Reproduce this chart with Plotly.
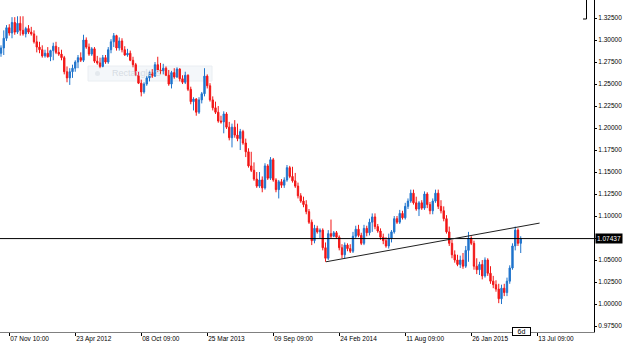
import pandas as pd
import plotly.graph_objects as go

# ---------------- data (weekly candles) ----------------
start_date = "2011-10-17"
n_bars = 190

opens = [1.285,1.291,1.302,1.314,1.308,1.320,1.309,1.319,1.311,1.307,
         1.313,1.309,1.307,1.298,1.292,1.289,1.282,1.285,1.281,1.288,
         1.293,1.286,1.284,1.280,1.264,1.257,1.264,1.268,1.275,1.280,
         1.277,1.300,1.292,1.284,1.290,1.276,1.274,1.270,1.280,1.275,
         1.289,1.298,1.305,1.291,1.299,1.289,1.283,1.285,1.277,1.272,
         1.260,1.251,1.241,1.250,1.257,1.263,1.259,1.272,1.266,1.265,
         1.268,1.260,1.250,1.263,1.258,1.267,1.256,1.252,1.260,1.244,
         1.230,1.233,1.218,1.232,1.239,1.259,1.248,1.232,1.223,1.218,
         1.208,1.207,1.216,1.201,1.189,1.201,1.192,1.188,1.196,1.183,
         1.173,1.157,1.152,1.142,1.134,1.141,1.132,1.157,1.143,1.164,
         1.141,1.130,1.139,1.135,1.141,1.155,1.145,1.140,1.134,1.123,
         1.117,1.113,1.105,1.093,1.072,1.086,1.082,1.084,1.064,1.052,
         1.080,1.077,1.081,1.076,1.064,1.056,1.067,1.063,1.060,1.077,
         1.085,1.078,1.069,1.086,1.081,1.093,1.099,1.088,1.083,1.076,
         1.072,1.066,1.075,1.082,1.097,1.093,1.103,1.098,1.111,1.117,
         1.126,1.115,1.108,1.115,1.109,1.125,1.113,1.106,1.117,1.126,
         1.111,1.106,1.097,1.082,1.069,1.056,1.050,1.045,1.050,1.043,
         1.061,1.075,1.069,1.043,1.039,1.045,1.032,1.050,1.035,1.026,
         1.022,1.017,1.006,1.018,1.013,1.026,1.041,1.066,1.084,1.069]

highs = [1.294,1.311,1.317,1.318,1.326,1.326,1.327,1.327,1.327,1.315,
         1.317,1.315,1.311,1.305,1.298,1.294,1.289,1.292,1.289,1.297,
         1.298,1.292,1.289,1.282,1.270,1.268,1.272,1.277,1.283,1.286,
         1.306,1.303,1.296,1.292,1.292,1.282,1.280,1.283,1.283,1.292,
         1.301,1.308,1.306,1.303,1.302,1.293,1.290,1.288,1.281,1.274,
         1.264,1.255,1.252,1.259,1.265,1.267,1.275,1.281,1.274,1.273,
         1.270,1.266,1.265,1.268,1.269,1.268,1.260,1.264,1.261,1.247,
         1.235,1.234,1.235,1.241,1.268,1.261,1.251,1.236,1.230,1.225,
         1.214,1.219,1.218,1.207,1.205,1.209,1.205,1.199,1.198,1.188,
         1.177,1.173,1.161,1.150,1.150,1.145,1.160,1.159,1.167,1.166,
         1.143,1.141,1.142,1.144,1.158,1.157,1.156,1.149,1.138,1.126,
         1.122,1.118,1.108,1.096,1.090,1.089,1.086,1.086,1.070,1.084,
         1.096,1.083,1.083,1.078,1.068,1.070,1.069,1.068,1.082,1.089,
         1.090,1.081,1.090,1.089,1.097,1.103,1.103,1.091,1.086,1.080,
         1.076,1.080,1.084,1.100,1.100,1.107,1.106,1.115,1.120,1.130,
         1.130,1.122,1.117,1.118,1.128,1.127,1.116,1.120,1.130,1.130,
         1.118,1.111,1.101,1.088,1.073,1.061,1.056,1.055,1.058,1.066,
         1.082,1.077,1.072,1.052,1.048,1.050,1.053,1.052,1.043,1.032,
         1.027,1.023,1.022,1.023,1.030,1.044,1.069,1.088,1.086,1.077]

lows = [1.281,1.283,1.299,1.305,1.302,1.306,1.307,1.305,1.305,1.303,
        1.307,1.305,1.296,1.286,1.285,1.280,1.280,1.280,1.276,1.277,
        1.284,1.282,1.277,1.261,1.252,1.249,1.257,1.264,1.268,1.275,
        1.275,1.290,1.282,1.282,1.274,1.272,1.268,1.269,1.273,1.273,
        1.285,1.292,1.288,1.288,1.286,1.282,1.281,1.276,1.269,1.259,
        1.250,1.236,1.239,1.248,1.253,1.257,1.258,1.264,1.261,1.261,
        1.259,1.248,1.245,1.256,1.257,1.253,1.250,1.250,1.242,1.227,
        1.220,1.214,1.216,1.228,1.236,1.245,1.230,1.220,1.216,1.206,
        1.205,1.194,1.199,1.186,1.178,1.189,1.185,1.175,1.181,1.167,
        1.155,1.150,1.140,1.132,1.132,1.127,1.130,1.141,1.141,1.139,
        1.127,1.120,1.132,1.132,1.139,1.143,1.138,1.132,1.120,1.115,
        1.110,1.102,1.091,1.067,1.069,1.080,1.075,1.061,1.048,1.050,
        1.075,1.076,1.074,1.061,1.052,1.052,1.060,1.058,1.058,1.075,
        1.076,1.067,1.067,1.077,1.078,1.082,1.085,1.081,1.073,1.068,
        1.064,1.063,1.070,1.080,1.091,1.091,1.096,1.096,1.108,1.115,
        1.113,1.106,1.100,1.107,1.107,1.109,1.102,1.102,1.115,1.108,
        1.103,1.094,1.080,1.066,1.052,1.047,1.043,1.041,1.040,1.041,
        1.048,1.067,1.039,1.034,1.033,1.028,1.030,1.032,1.023,1.018,
        1.014,1.001,1.000,1.009,1.009,1.023,1.039,1.061,1.066,1.058]

closes = [1.291,1.302,1.314,1.308,1.320,1.309,1.319,1.311,1.307,1.313,
          1.309,1.307,1.298,1.292,1.289,1.282,1.285,1.281,1.288,1.293,
          1.286,1.284,1.280,1.264,1.257,1.264,1.268,1.275,1.280,1.277,
          1.300,1.292,1.284,1.290,1.276,1.274,1.270,1.280,1.275,1.289,
          1.298,1.305,1.291,1.299,1.289,1.283,1.285,1.277,1.272,1.260,
          1.251,1.241,1.250,1.257,1.263,1.259,1.272,1.266,1.265,1.268,
          1.260,1.250,1.263,1.258,1.267,1.256,1.252,1.260,1.244,1.230,
          1.233,1.218,1.232,1.239,1.259,1.248,1.232,1.223,1.218,1.208,
          1.207,1.216,1.201,1.189,1.201,1.192,1.188,1.196,1.183,1.173,
          1.157,1.152,1.142,1.134,1.141,1.132,1.157,1.143,1.164,1.141,
          1.130,1.139,1.135,1.141,1.155,1.145,1.140,1.134,1.123,1.117,
          1.113,1.105,1.093,1.072,1.086,1.082,1.084,1.064,1.052,1.080,
          1.077,1.081,1.076,1.064,1.056,1.067,1.063,1.060,1.077,1.085,
          1.078,1.069,1.086,1.081,1.093,1.099,1.088,1.083,1.076,1.072,
          1.066,1.075,1.082,1.097,1.093,1.103,1.098,1.111,1.117,1.126,
          1.115,1.108,1.115,1.109,1.125,1.113,1.106,1.117,1.126,1.111,
          1.106,1.097,1.082,1.069,1.056,1.050,1.045,1.050,1.043,1.061,
          1.075,1.069,1.043,1.039,1.045,1.032,1.050,1.035,1.026,1.022,
          1.017,1.006,1.018,1.013,1.026,1.041,1.066,1.084,1.069,1.07437]

last_price = 1.07437
trend_x = ["2014-01-21", "2015-07-19"]
trend_y = [1.048, 1.092]

y_tick_vals = [0.975, 1.000, 1.025, 1.050, 1.075, 1.100, 1.125, 1.150, 1.175,
               1.200, 1.225, 1.250, 1.275, 1.300, 1.325]
x_tick_dates = ["2011-11-07", "2012-04-23", "2012-10-08", "2013-03-25", "2013-09-09",
                "2014-02-24", "2014-08-11", "2015-01-26", "2015-07-13"]
x_tick_labels = ["07 Nov 10:00", "23 Apr 2012", "08 Oct 09:00", "25 Mar 2013",
                 "09 Sep 09:00", "24 Feb 2014", "11 Aug 09:00", "26 Jan 2015",
                 "13 Jul 09:00"]

# ---------------- figure ----------------
dates = pd.date_range(start_date, periods=n_bars, freq="7D")
t0 = pd.Timestamp(start_date)
x_range = [t0 - pd.Timedelta(days=2.55), t0 + pd.Timedelta(days=1509.5)]

FONT = "Liberation Sans"

fig = go.Figure()
fig.add_trace(go.Candlestick(
    x=dates, open=opens, high=highs, low=lows, close=closes,
    increasing=dict(line=dict(color="#1f74cc", width=1), fillcolor="#1f74cc"),
    decreasing=dict(line=dict(color="#f21616", width=1), fillcolor="#f21616"),
    whiskerwidth=0, showlegend=False, hoverinfo="skip",
))

shapes = [
    # faint ghost tooltip box
    dict(type="rect", xref="paper", yref="paper", x0=88/594, x1=212/594,
         y0=(332-81)/332, y1=(332-66)/332, fillcolor="#f4f7fa",
         line=dict(color="#eaeef2", width=1), layer="below"),
    dict(type="circle", xref="paper", yref="paper", x0=95/594, x1=100/594,
         y0=(332-76)/332, y1=(332-71)/332, fillcolor="#e4e9ee",
         line=dict(width=0), layer="below"),
    # current price horizontal line
    dict(type="line", xref="paper", yref="y", x0=0, x1=1, y0=last_price, y1=last_price,
         line=dict(color="black", width=1)),
    # trend line
    dict(type="line", xref="x", yref="y", x0=trend_x[0], x1=trend_x[1],
         y0=trend_y[0], y1=trend_y[1], line=dict(color="#202020", width=1)),
    # top-right bracket
    dict(type="line", xref="paper", yref="paper", x0=586.5/594, x1=586.5/594,
         y0=1, y1=(332-19)/332, line=dict(color="black", width=1)),
    dict(type="line", xref="paper", yref="paper", x0=583/594, x1=586.5/594,
         y0=(332-19)/332, y1=(332-19)/332, line=dict(color="black", width=1)),
]

annotations = [
    dict(xref="paper", yref="paper", x=110/594, y=(332-73.5)/332, xanchor="left",
         yanchor="middle", text="Rectangle S", showarrow=False,
         font=dict(family=FONT, size=9, color="#d6dce3")),
    dict(xref="paper", yref="y", x=1, y=last_price, xanchor="left", yanchor="middle",
         xshift=1, text="1.07437", showarrow=False, bgcolor="black",
         borderpad=1, font=dict(family=FONT, size=6.5, color="white")),
    dict(xref="x", yref="paper", x="2015-06-04", y=(332-331)/332, xanchor="center",
         yanchor="middle", text="6d", showarrow=False, bgcolor="white",
         bordercolor="black", borderwidth=1, borderpad=0, width=17, height=7,
         font=dict(family=FONT, size=7, color="black")),
]

fig.update_layout(
    width=625, height=344,
    margin=dict(l=0, r=31, t=0, b=12, pad=0),
    paper_bgcolor="white", plot_bgcolor="white",
    showlegend=False,
    shapes=shapes, annotations=annotations,
    xaxis=dict(
        type="date", range=x_range, rangeslider=dict(visible=False),
        tickvals=x_tick_dates, ticktext=x_tick_labels,
        ticks="outside", ticklen=3, tickcolor="black", tickwidth=1,
        ticklabelposition="outside right",
        showline=True, linecolor="#808080", linewidth=1,
        showgrid=False, zeroline=False, automargin=False,
        tickfont=dict(family=FONT, size=6.5, color="black"),
    ),
    yaxis=dict(
        side="right", range=[1.3455 - 332/880, 1.3455],
        tickvals=y_tick_vals, ticktext=[f"{v:.5f}" for v in y_tick_vals],
        ticks="outside", ticklen=2, tickcolor="black", tickwidth=1,
        showline=True, linecolor="black", linewidth=1,
        showgrid=False, zeroline=False, automargin=False,
        tickfont=dict(family=FONT, size=6.5, color="black"),
    ),
)

fig.write_html("out.html")
